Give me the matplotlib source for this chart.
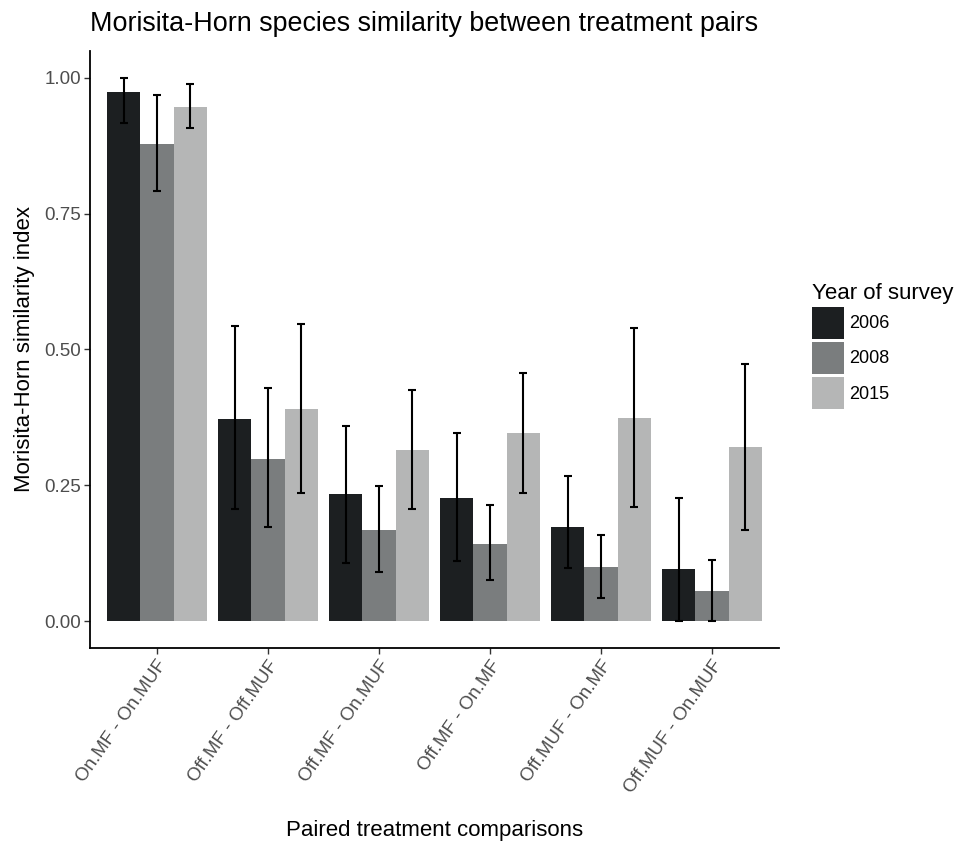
import numpy as np
import matplotlib
matplotlib.use("Agg")
from matplotlib import pyplot as plt
from matplotlib.patches import Patch

plt.rcParams["font.family"] = ["Liberation Sans", "DejaVu Sans"]

comparisons = ["On.MF - On.MUF", "Off.MF - Off.MUF", "Off.MF - On.MUF",
               "Off.MF - On.MF", "Off.MUF - On.MF", "Off.MUF - On.MUF"]
years = ["2006", "2008", "2015"]
colors = ["#1c1f21", "#7a7d7e", "#b5b6b6"]

# mean similarity per year
mean_2006 = [0.973, 0.372, 0.233, 0.227, 0.173, 0.096]
mean_2008 = [0.879, 0.298, 0.168, 0.142, 0.099, 0.056]
mean_2015 = [0.947, 0.390, 0.314, 0.346, 0.374, 0.320]

# error bar limits
low_2006 = [0.916, 0.206, 0.106, 0.110, 0.098, 0.000]
high_2006 = [1.000, 0.543, 0.359, 0.346, 0.267, 0.226]
low_2008 = [0.792, 0.174, 0.090, 0.075, 0.043, 0.000]
high_2008 = [0.969, 0.429, 0.249, 0.214, 0.159, 0.113]
low_2015 = [0.907, 0.236, 0.207, 0.235, 0.209, 0.168]
high_2015 = [0.988, 0.546, 0.425, 0.457, 0.540, 0.474]

means = [mean_2006, mean_2008, mean_2015]
lows = [low_2006, low_2008, low_2015]
highs = [high_2006, high_2008, high_2015]

fig = plt.figure(figsize=(9.6, 8.44), dpi=100)
ax = fig.add_axes([0.094, 0.232, 0.717, 0.708])

x = np.arange(1, len(comparisons) + 1)
bw = 0.3
for i, year in enumerate(years):
    xpos = x + (i - 1) * bw
    m = np.array(means[i])
    ax.bar(xpos, m, width=bw, color=colors[i], edgecolor="none", zorder=2)
    yerr = [m - np.array(lows[i]), np.array(highs[i]) - m]
    ax.errorbar(xpos, m, yerr=yerr, fmt="none", ecolor="black",
                elinewidth=1.5, capsize=3, capthick=1.5, zorder=3)

ax.set_xlim(0.4, 6.6)
ax.set_ylim(-0.05, 1.05)
ax.set_yticks([0, 0.25, 0.5, 0.75, 1.0])
ax.set_yticklabels(["0.00", "0.25", "0.50", "0.75", "1.00"])
ax.set_xticks(x)
ax.set_xticklabels(comparisons, rotation=55, ha="right", va="top",
                   rotation_mode="anchor")
ax.tick_params(axis="both", colors="#333333", labelcolor="#4d4d4d",
               labelsize=13.5, length=4, width=1, pad=2.5)
for s in ["top", "right"]:
    ax.spines[s].set_visible(False)
for s in ["left", "bottom"]:
    ax.spines[s].set_linewidth(1.3)
    ax.spines[s].set_color("black")

ax.set_xlabel("Paired treatment comparisons", fontsize=16, va="center")
ax.xaxis.set_label_coords(0.5, -0.305)
ax.set_ylabel("Morisita-Horn similarity index", fontsize=16, va="center")
ax.yaxis.set_label_coords(-0.095, 0.5)
fig.text(0.094, 0.9716, "Morisita-Horn species similarity between treatment pairs",
         fontsize=19.4, ha="left", va="center")

handles = [Patch(facecolor=c, edgecolor="none") for c in colors]
leg = fig.legend(handles, years, title="Year of survey", loc="upper left",
                 bbox_to_anchor=(0.846, 0.665), frameon=False, fontsize=13,
                 title_fontsize=16, handlelength=1.75, handleheight=2.35,
                 handletextpad=0.3, labelspacing=0.17, borderpad=0,
                 borderaxespad=0)
leg._legend_box.align = "left"

fig.savefig("out.png", dpi=100)
